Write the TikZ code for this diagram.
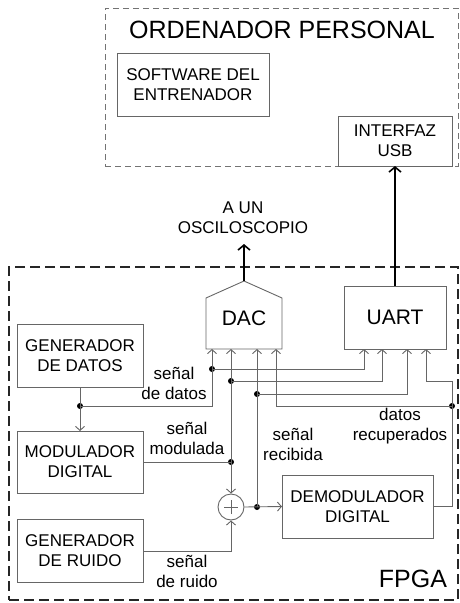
\documentclass[tikz,border=0pt]{standalone}
\usepackage{fontspec}
\setmainfont{Liberation Sans}
\usetikzlibrary{arrows.meta}
\begin{document}
\begin{tikzpicture}[x=1pt,y=-1pt,
  every node/.style={font=\fontsize{17}{20}\selectfont, text=black, align=center},
  blk/.style={draw=black!60, line width=0.9pt, inner sep=0pt, outer sep=0pt},
  wire/.style={draw=black!60, line width=0.9pt},
  arr/.style={wire, -{Straight Barb[length=4pt,width=9pt]}},
  bigarr/.style={draw=black, line width=2pt, -{Straight Barb[length=5pt,width=12pt,line width=1.6pt]}},
  dot/.style={circle, fill=black, inner sep=0pt, minimum size=6pt},
  pcborder/.style={draw=black!55, line width=0.8pt, dash pattern=on 6pt off 4pt, inner sep=0pt},
  fpgaborder/.style={draw=black!85, line width=1.4pt, dash pattern=on 10pt off 5pt, inner sep=0pt}
]
\useasboundingbox (0,0) rectangle (460,603);
% containers
\node[pcborder, minimum width=353pt, minimum height=158pt] (pc) at (281.5,87) {};
\node[fpgaborder, minimum width=449pt, minimum height=333pt] (fpga) at (233.5,433.5) {};
\node[font=\fontsize{25}{28}\selectfont] (pctitle) at (282,30) {ORDENADOR PERSONAL};
\node[font=\fontsize{25}{28}\selectfont] (fpgatitle) at (413,579) {FPGA};
% PC blocks
\node[blk, fill=white, minimum width=152pt, minimum height=63pt] (sw) at (193,84.5) {SOFTWARE DEL\\ENTRENADOR};
\node[blk, fill=white, minimum width=114pt, minimum height=50pt] (usb) at (395,141) {INTERFAZ\\USB};
% FPGA blocks
\node[blk, minimum width=102pt, minimum height=63pt, font=\fontsize{21}{24}\selectfont] (uart) at (395,317.5) {UART};
\coordinate (dacbl) at (206,349);
\coordinate (dacbr) at (282,349);
\coordinate (dacapex) at (244,281);
\draw[wire] (dacbl) -- (206,298) -- (dacapex) -- (282,298) -- (dacbr) -- cycle;
\node[font=\fontsize{21}{24}\selectfont] (dac) at (244,318) {DAC};
\node[blk, minimum width=126pt, minimum height=63pt] (gd) at (80,355.5) {GENERADOR\\DE DATOS};
\node[blk, minimum width=126pt, minimum height=62pt] (mod) at (80,462) {MODULADOR\\DIGITAL};
\node[blk, minimum width=126pt, minimum height=63pt] (gr) at (80,550.5) {GENERADOR\\DE RUIDO};
\node[blk, minimum width=151pt, minimum height=63pt] (demod) at (357.5,506.5) {DEMODULADOR\\DIGITAL};
\node[circle, draw=black!60, line width=0.9pt, minimum size=26pt, inner sep=0pt] (add) at (231,507) {};
\draw[wire] ([xshift=-7pt]add.center) -- ([xshift=7pt]add.center);
\draw[wire] ([yshift=-7pt]add.center) -- ([yshift=7pt]add.center);
% outputs to PC / scope
\node (osc) at (243,218) {A UN\\OSCILOSCOPIO};
\draw[bigarr] (dacapex) -- (244,244);
\draw[bigarr] (uart.north) -- (usb.south);
% DAC / UART inputs
\coordinate (d1) at (212,349); \coordinate (d2) at (231,349);
\coordinate (d3) at (257,349); \coordinate (d4) at (276,349);
\coordinate (u1) at (364,349); \coordinate (u2) at (382,349);
\coordinate (u3) at (407,349); \coordinate (u4) at (426,349);
% junctions
\node[dot] (j1) at (80,406) {};
\node[dot] (j1b) at (212,369) {};
\node[dot] (j2) at (231,462) {};
\node[dot] (j2b) at (231,381) {};
\node[dot] (j3) at (257,507) {};
\node[dot] (j3b) at (257,394) {};
\node[dot] (j4) at (452,406) {};
% data signal
\draw[arr] (gd.south) -- (mod.north);
\draw[arr] (j1.center) -- (212,406) -- (d1);
\draw[arr] (j1b.center) -- (364,369) -- (u1);
% modulated signal
\draw[wire] (mod.east |- j2) -- (j2.center);
\draw[arr] (j2.center) -- (add.north);
\draw[arr] (j2.center) -- (d2);
\draw[arr] (j2b.center) -- (382,381) -- (u2);
% noise
\draw[arr] (gr.east |- 0,551) -- (231,551) -- (add.south);
% received signal
\draw[arr] (add.east) -- (demod.west);
\draw[arr] (j3.center) -- (d3);
\draw[arr] (j3b.center) -- (407,394) -- (u3);
% recovered data
\draw[arr] (demod.east) -- (452,506.5) -- (452,381) -- (426,381) -- (u4);
\draw[arr] (j4.center) -- (276,406) -- (d4);
% labels
\node (l1) at (174,383) {señal\\de datos};
\node (l2) at (187,438) {señal\\modulada};
\node (l3) at (293,444.5) {señal\\recibida};
\node (l4) at (400,426) {datos\\recuperados};
\node (l5) at (187,571.5) {señal\\de ruido};
\end{tikzpicture}
\end{document}
